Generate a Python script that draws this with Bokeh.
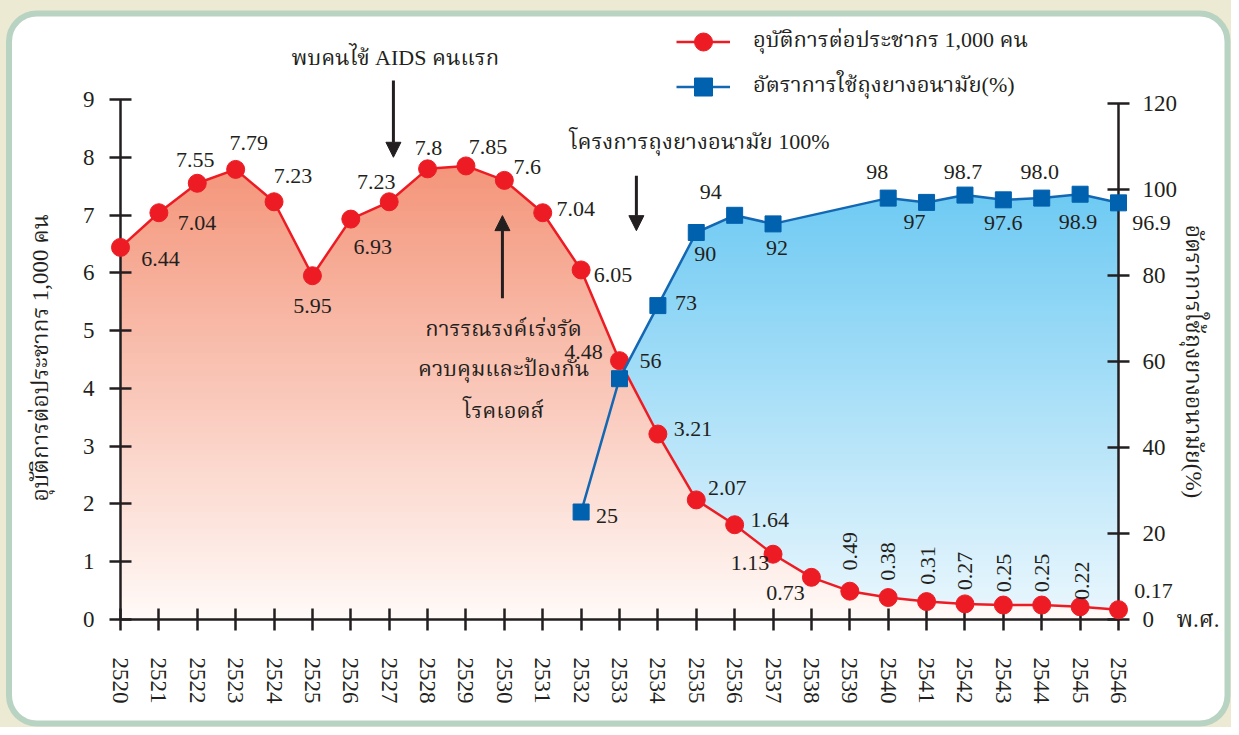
import math
from bokeh.plotting import figure
from bokeh.models import (Range1d, LinearAxis, FixedTicker, ColumnDataSource,
                          Legend, LegendItem, Arrow, NormalHead)
from bokeh.embed import file_html
from bokeh.resources import INLINE
from bokeh.core.properties import value

# ---------------- data ----------------
years = list(range(2520, 2547))
year_labels = [str(y) for y in years]
incidence = [6.44, 7.04, 7.55, 7.79, 7.23, 5.95, 6.93, 7.23, 7.8, 7.85, 7.6, 7.04, 6.05,
             4.48, 3.21, 2.07, 1.64, 1.13, 0.73, 0.49, 0.38, 0.31, 0.27, 0.25, 0.25, 0.22, 0.17]
incidence_text = ["6.44", "7.04", "7.55", "7.79", "7.23", "5.95", "6.93", "7.23", "7.8", "7.85",
                  "7.6", "7.04", "6.05", "4.48", "3.21", "2.07", "1.64", "1.13", "0.73", "0.49",
                  "0.38", "0.31", "0.27", "0.25", "0.25", "0.22", "0.17"]
condom_years = [2532, 2533, 2534, 2535, 2536, 2537, 2540, 2541, 2542, 2543, 2544, 2545, 2546]
condom_use = [25, 56, 73, 90, 94, 92, 98, 97, 98.7, 97.6, 98.0, 98.9, 96.9]
condom_text = ["25", "56", "73", "90", "94", "92", "98", "97", "98.7", "97.6", "98.0", "98.9", "96.9"]
left_ticks = [0, 1, 2, 3, 4, 5, 6, 7, 8, 9]
right_ticks = [0, 20, 40, 60, 80, 100, 120]
series_names = ["อุบัติการต่อประชากร 1,000 คน", "อัตราการใช้ถุงยางอนามัย(%)"]
left_title = "อุบัติการต่อประชากร 1,000 คน"
right_title = "อัตราการใช้ถุงยางอนามัย(%)"
x_unit = "พ.ศ."
note_texts = ["พบคนไข้ AIDS คนแรก", "โครงการถุงยางอนามัย 100%",
              "การรณรงค์เร่งรัด", "ควบคุมและป้องกัน", "โรคเอดส์"]
# event arrows: year position, tail value, tip value (left axis units)
arrow_x = [2527.11, 2533.44, 2529.95]
arrow_tail = [9.33, 7.68, 5.56]
arrow_tip = [8.0, 6.73, 6.99]

# ---------------- label placement (pixels / positions) ----------------
red_dx = [40, 38, -2, 13, 19, 0, 22, -13, 1, 22, 23, 33, 32, -36, 35, 31, 35, -23, -26,
          0, 0, 1, 0, 1, 0, 2, 35]
red_dy = [12, 10, -23, -26, -26, 30, 28, -20, -21, -19, -13, -4, 5, -9, -5, -12, -5, 9, 16,
          -40, -36, -36, -33, -32, -32, -26, -19]
red_rot = [0] * 19 + [math.pi / 2] * 7 + [0]
blue_dx = [26, 31, 28, 9, -24, 4, -11, -12, -2, 0, -2, -2, 33]
blue_dy = [4, -18, -3, 21, -23, 24, -26, 20, -23, 23, -26, 28, 20]
note_x = [2527.16, 2535.08, 2529.98, 2529.98, 2529.98]
note_y = [9.73, 8.27, 5.04, 4.34, 3.62]

# ---------------- style ----------------
FONT = "Liberation Serif, Noto Serif Thai, Noto Sans Thai"
INK = "#231F20"
RED = "#ED1C24"
BLUE = "#0061AF"
BEIGE = "#EDEAD3"
GREEN = "#B9D3C3"
W, H = 1231, 727
FL, FR, FT, FB = 120, 1118, 14, 619
X0, X1 = 2520, 2546
PX_Y = 520 / 9          # pixels per unit, left axis
PX_Y2 = 516 / 120       # pixels per unit, right axis
Y_TOP = (FB - FT) / PX_Y
Y2_TOP = (FB - FT) / PX_Y2

p = figure(width=W, height=H, x_range=Range1d(X0, X1), y_range=Range1d(0, Y_TOP),
           output_backend="svg", toolbar_location=None,
           min_border_left=FL, min_border_right=W - FR, min_border_top=FT,
           min_border_bottom=H - FB)
p.extra_y_ranges = {"right": Range1d(0, Y2_TOP)}
p.grid.visible = False
p.outline_line_color = None
p.background_fill_color = "white"
p.border_fill_color = "white"


def style_axis(ax, ticks, standoff):
    ax.ticker = FixedTicker(ticks=ticks)
    ax.bounds = (ticks[0], ticks[-1])
    ax.major_tick_in = 11
    ax.major_tick_out = 11
    ax.minor_tick_line_color = None
    ax.axis_line_width = 2.5
    ax.axis_line_color = INK
    ax.major_tick_line_width = 2.5
    ax.major_tick_line_color = INK
    ax.major_label_text_font = FONT
    ax.major_label_text_font_size = "23px"
    ax.major_label_text_color = INK
    ax.major_label_standoff = standoff


xa = p.xaxis[0]
style_axis(xa, years, 27)
xa.major_label_overrides = {y: s for y, s in zip(years, year_labels)}
xa.major_label_orientation = "vertical"

ya = p.yaxis[0]
style_axis(ya, left_ticks, 15)

ra = LinearAxis(y_range_name="right")
style_axis(ra, right_ticks, 13)
p.add_layout(ra, "right")


# ---------------- gradient fills (polygon clipped into horizontal bands) ----------------
def clip_half(poly, y0, keep_above):
    out = []
    n = len(poly)
    for i in range(n):
        cur, prev = poly[i], poly[i - 1]
        cin = cur[1] >= y0 if keep_above else cur[1] <= y0
        pin = prev[1] >= y0 if keep_above else prev[1] <= y0
        if cin != pin:
            t = (y0 - prev[1]) / (cur[1] - prev[1])
            out.append((prev[0] + t * (cur[0] - prev[0]), y0))
        if cin:
            out.append(cur)
    return out


def mix(c0, c1, t):
    t = max(0.0, min(1.0, t))
    return "#%02x%02x%02x" % tuple(int(round(a + (b - a) * t)) for a, b in zip(c0, c1))


def gradient_bands(xs, ys, top_val, c_bottom, c_top, nb):
    poly = list(zip(xs, ys)) + [(xs[-1], 0.0), (xs[0], 0.0)]
    step = top_val / nb
    bx, by, bc = [], [], []
    for k in range(nb + 2):
        lo, hi = k * step, (k + 1) * step
        part = clip_half(poly, lo, True)
        if len(part) < 3:
            continue
        part = clip_half(part, hi + step * 0.35, False)
        if len(part) < 3:
            continue
        bx.append([q[0] for q in part])
        by.append([q[1] for q in part])
        bc.append(mix(c_bottom, c_top, (lo + hi) / 2 / top_val))
    return ColumnDataSource(dict(xs=bx, ys=by, c=bc))


blue_src = gradient_bands(condom_years, condom_use, 99.0, (235, 247, 253), (110, 202, 243), 80)
p.patches("xs", "ys", source=blue_src, fill_color="c", line_color=None, y_range_name="right")
red_src = gradient_bands(years, incidence, 7.85, (255, 250, 248), (244, 149, 122), 80)
p.patches("xs", "ys", source=red_src, fill_color="c", line_color=None)

# ---------------- series ----------------
rsrc = ColumnDataSource(dict(x=years, y=incidence, t=incidence_text, dx=red_dx, dy=red_dy, a=red_rot))
bsrc = ColumnDataSource(dict(x=condom_years, y=condom_use, t=condom_text, dx=blue_dx, dy=blue_dy))

r_line = p.line("x", "y", source=rsrc, line_color=RED, line_width=2.5, level="overlay")
r_pts = p.scatter("x", "y", source=rsrc, marker="circle", size=18, fill_color=RED,
                  line_color=RED, level="overlay")
b_line = p.line("x", "y", source=bsrc, line_color="#1467B3", line_width=2.5,
                y_range_name="right", level="overlay")
b_pts = p.scatter("x", "y", source=bsrc, marker="square", size=16, fill_color=BLUE,
                  line_color=BLUE, y_range_name="right", level="overlay")

p.text("x", "y", text="t", source=rsrc, x_offset="dx", y_offset="dy", angle="a",
       text_align="center", text_baseline="middle", text_font=value(FONT),
       text_font_size="22px", text_color=INK, level="overlay")
p.text("x", "y", text="t", source=bsrc, x_offset="dx", y_offset="dy",
       text_align="center", text_baseline="middle", text_font=value(FONT),
       text_font_size="22px", text_color=INK, y_range_name="right", level="overlay")

# ---------------- axis titles (centred on the 0..9 / 0..120 span) ----------------
p.text(x=[X0], y=[left_ticks[-1] / 2 + 0.03], text=[left_title], x_offset=-80, angle=math.pi / 2,
       text_align="center", text_baseline="middle", text_font=value(FONT),
       text_font_size="23px", text_color=INK, level="overlay")
p.text(x=[X1], y=[right_ticks[-1] / 2], text=[right_title], x_offset=75, angle=-math.pi / 2,
       text_align="center", text_baseline="middle", text_font=value(FONT),
       text_font_size="23px", text_color=INK, y_range_name="right", level="overlay")

# ---------------- legend ----------------
legend = Legend(items=[LegendItem(label=series_names[0], renderers=[r_line, r_pts]),
                       LegendItem(label=series_names[1], renderers=[b_line, b_pts])],
                location=(556, 510), glyph_width=54, glyph_height=45, label_height=45,
                label_standoff=23, spacing=0, padding=0, margin=0,
                border_line_color=None, background_fill_alpha=0,
                label_text_font=FONT, label_text_font_size="22px", label_text_color=INK)
p.add_layout(legend)

# ---------------- event notes and arrows ----------------
for ax_, y0_, y1_ in zip(arrow_x, arrow_tail, arrow_tip):
    p.add_layout(Arrow(end=NormalHead(size=15, fill_color=INK, line_color=INK, line_width=1),
                       x_start=ax_, y_start=y0_, x_end=ax_, y_end=y1_,
                       line_width=3, line_color=INK))

nsrc = ColumnDataSource(dict(x=note_x, y=note_y, t=note_texts))
p.text("x", "y", text="t", source=nsrc, text_align="center", text_baseline="middle",
       text_font=value(FONT), text_font_size="22px", text_color=INK, level="overlay")
p.text(x=[X1], y=[0], text=[x_unit], x_offset=58, text_align="left", text_baseline="middle",
       text_font=value(FONT), text_font_size="23px", text_color=INK, level="overlay")


# ---------------- rounded panel ----------------
def dx_(px):
    return X0 + (px - FL) * (X1 - X0) / (FR - FL)


def dy_(py):
    return (FB - py) / PX_Y


p.quad(left=[dx_(-11.5)], right=[dx_(W + 16)], top=[dy_(-7)], bottom=[dy_(H + 16)],
       fill_alpha=0, line_color=BEIGE, line_width=40, border_radius=48, level="overlay")
p.quad(left=[dx_(8.5)], right=[dx_(W - 4)], top=[dy_(13)], bottom=[dy_(H - 4)],
       fill_alpha=0, line_color=GREEN, line_width=6, border_radius=28, level="overlay")

open("out.html", "w").write(file_html(p, INLINE))
